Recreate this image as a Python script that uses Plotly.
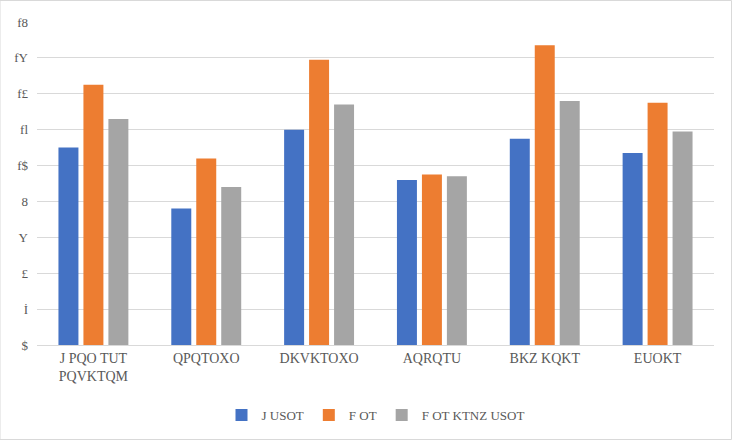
import plotly.graph_objects as go

categories = ["J PQO TUT<br>PQVKTQM", "QPQTOXO", "DKVKTOXO", "AQRQTU", "BKZ KQKT", "EUOKT"]
series_names = ["J USOT", "F OT", "F OT KTNZ USOT"]
blue_vals = [11.0, 7.6, 12.0, 9.2, 11.5, 10.7]
orange_vals = [14.5, 10.4, 15.9, 9.5, 16.7, 13.5]
gray_vals = [12.6, 8.8, 13.4, 9.4, 13.6, 11.9]
colors = ["#4472C4", "#ED7D31", "#A5A5A5"]
tick_vals = [0, 2, 4, 6, 8, 10, 12, 14, 16, 18]
tick_text = ["$", "İ", "£", "Y", "8", "f$", "fl", "f£", "fY", "f8"]

fig = go.Figure()
for name, vals, c in zip(series_names, [blue_vals, orange_vals, gray_vals], colors):
    fig.add_trace(go.Bar(x=categories, y=vals, name=name, marker_color=c,
                         marker_line_width=0))

font = dict(family="Liberation Serif", size=13, color="#595959")
xfont = dict(family="Liberation Serif", size=14, color="#595959")
fig.update_layout(
    width=732, height=440,
    margin=dict(l=37, r=18, t=22, b=95, autoexpand=False),
    paper_bgcolor="white", plot_bgcolor="white",
    barmode="group", bargap=0.336, bargroupgap=0.2,
    font=font,
    showlegend=True,
    legend=dict(orientation="h", x=0.5, xanchor="center",
                yref="container", y=1 - 400 / 440, yanchor="top",
                font=font, itemsizing="constant", traceorder="normal"),
    xaxis=dict(showgrid=False, showline=True, linecolor="#d9d9d9", linewidth=1,
               ticks="", tickfont=xfont, automargin=False),
    yaxis=dict(range=[0, 18], tickvals=tick_vals, ticktext=tick_text,
               showgrid=True, gridcolor="#d9d9d9", gridwidth=1,
               zeroline=False, showline=False, ticks="", tickfont=font,
               ticklabelstandoff=8, automargin=False),
)
fig.add_shape(type="rect", xref="paper", yref="paper",
              x0=-37/677, x1=1+17.5/677, y0=-94.5/323, y1=1+21.5/323,
              line=dict(color="#d9d9d9", width=1))
fig.write_html("out.html")
